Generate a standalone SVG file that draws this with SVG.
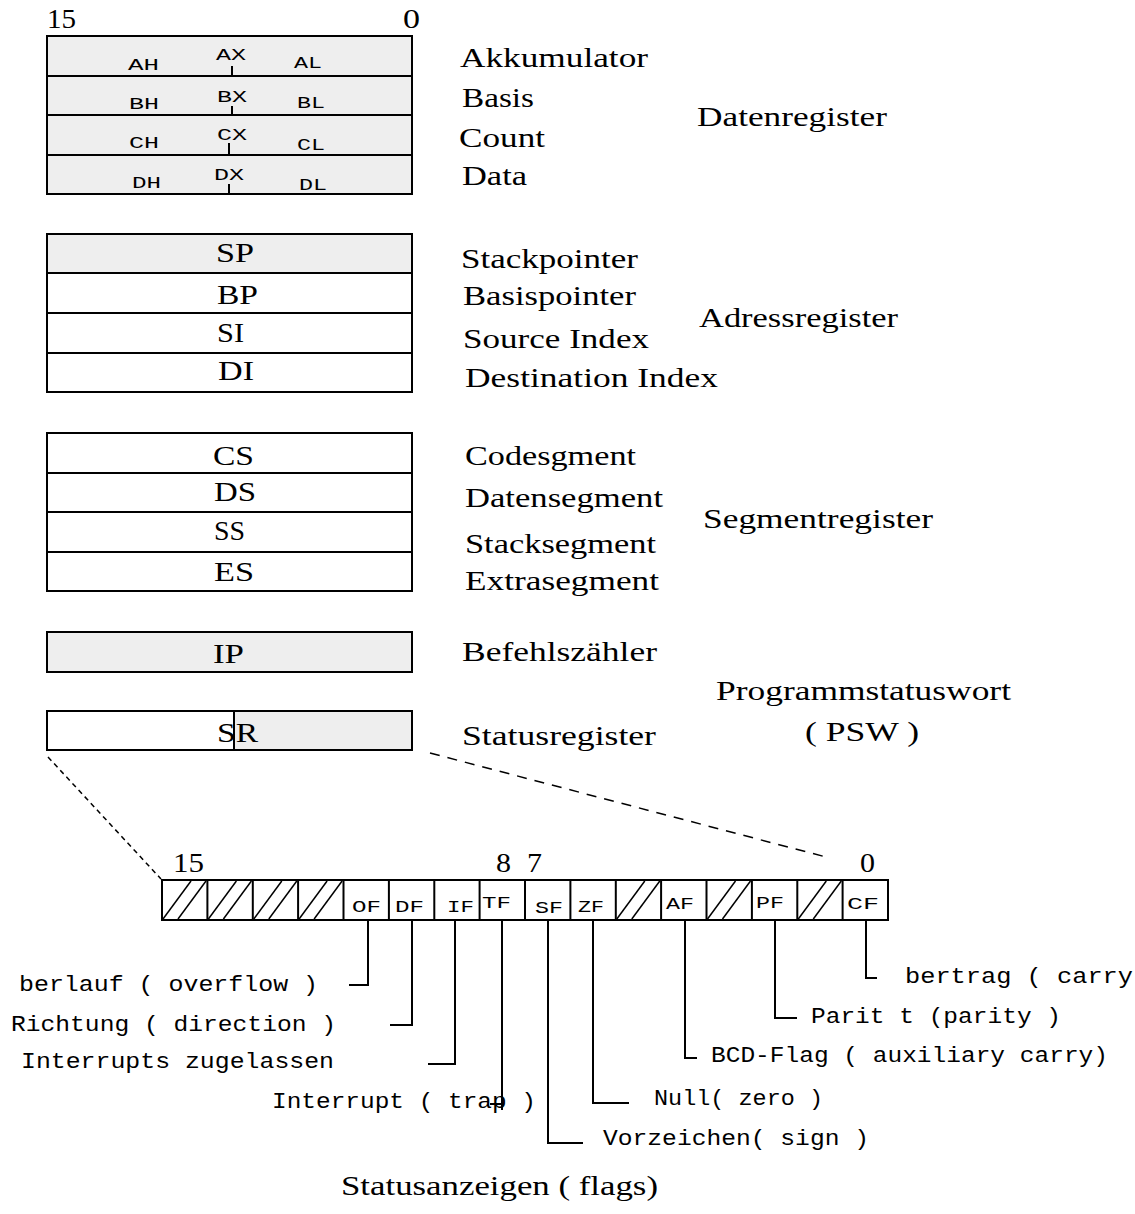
<svg xmlns="http://www.w3.org/2000/svg" width="1135" height="1214" viewBox="0 0 1135 1214">
<style>
.box{stroke:#000;stroke-width:2;fill:#fff}
.g{fill:#eeeeee}
.ln{stroke:#000;stroke-width:2;fill:none}
.t{font-family:"Liberation Serif","Times New Roman",serif;font-size:28px;fill:#000}
.m{font-family:"Liberation Mono","Courier New",monospace;font-size:17px;fill:#000}
.f{font-family:"Liberation Mono","Courier New",monospace;font-size:17px;fill:#000}
.b{font-family:"Liberation Mono","Courier New",monospace;font-size:22px;fill:#000}
.h{stroke:#000;stroke-width:1.5}
</style>
<defs>
<g id="hatch">
<line class="h" x1="1" y1="39" x2="29" y2="1"/>
<line class="h" x1="16" y1="39" x2="44" y2="1"/>
</g>
</defs>

<text class="t" x="47" y="28" textLength="29" lengthAdjust="spacingAndGlyphs">15</text>
<text class="t" x="403" y="28" textLength="17" lengthAdjust="spacingAndGlyphs">0</text>

<g id="datenregister">
<rect class="box g" x="47" y="36" width="365" height="158"/>
<line class="ln" x1="47" y1="76" x2="412" y2="76"/>
<line class="ln" x1="47" y1="115" x2="412" y2="115"/>
<line class="ln" x1="47" y1="155" x2="412" y2="155"/>
<line class="ln" x1="232" y1="66" x2="232" y2="76"/>
<line class="ln" x1="232" y1="106" x2="232" y2="115"/>
<line class="ln" x1="229" y1="143" x2="229" y2="155"/>
<line class="ln" x1="229" y1="184" x2="229" y2="194"/>
<text class="m" x="128" y="70" textLength="31" lengthAdjust="spacingAndGlyphs">AH</text>
<text class="m" x="216" y="60" textLength="30" lengthAdjust="spacingAndGlyphs">AX</text>
<text class="m" x="294" y="68" textLength="28" lengthAdjust="spacingAndGlyphs">AL</text>
<text class="m" x="129" y="109" textLength="30" lengthAdjust="spacingAndGlyphs">BH</text>
<text class="m" x="217" y="102" textLength="30" lengthAdjust="spacingAndGlyphs">BX</text>
<text class="m" x="297" y="108" textLength="28" lengthAdjust="spacingAndGlyphs">BL</text>
<text class="m" x="129" y="148" textLength="30" lengthAdjust="spacingAndGlyphs">CH</text>
<text class="m" x="217" y="140" textLength="30" lengthAdjust="spacingAndGlyphs">CX</text>
<text class="m" x="297" y="150" textLength="28" lengthAdjust="spacingAndGlyphs">CL</text>
<text class="m" x="132" y="188" textLength="29" lengthAdjust="spacingAndGlyphs">DH</text>
<text class="m" x="214" y="180" textLength="30" lengthAdjust="spacingAndGlyphs">DX</text>
<text class="m" x="299" y="190" textLength="28" lengthAdjust="spacingAndGlyphs">DL</text>
<text class="t" x="460" y="67" textLength="188" lengthAdjust="spacingAndGlyphs">Akkumulator</text>
<text class="t" x="462" y="107" textLength="72" lengthAdjust="spacingAndGlyphs">Basis</text>
<text class="t" x="459" y="147" textLength="86" lengthAdjust="spacingAndGlyphs">Count</text>
<text class="t" x="462" y="185" textLength="65" lengthAdjust="spacingAndGlyphs">Data</text>
<text class="t" x="697" y="126" textLength="190" lengthAdjust="spacingAndGlyphs">Datenregister</text>
</g>

<g id="adressregister">
<rect class="box g" x="47" y="234" width="365" height="39"/>
<rect class="box" x="47" y="273" width="365" height="119"/>
<line class="ln" x1="47" y1="313" x2="412" y2="313"/>
<line class="ln" x1="47" y1="353" x2="412" y2="353"/>
<text class="t" x="216" y="262" textLength="38" lengthAdjust="spacingAndGlyphs">SP</text>
<text class="t" x="217" y="304" textLength="41" lengthAdjust="spacingAndGlyphs">BP</text>
<text class="t" x="217" y="342" textLength="27" lengthAdjust="spacingAndGlyphs">SI</text>
<text class="t" x="218" y="380" textLength="36" lengthAdjust="spacingAndGlyphs">DI</text>
<text class="t" x="461" y="268" textLength="177" lengthAdjust="spacingAndGlyphs">Stackpointer</text>
<text class="t" x="463" y="305" textLength="173" lengthAdjust="spacingAndGlyphs">Basispointer</text>
<text class="t" x="463" y="348" textLength="186" lengthAdjust="spacingAndGlyphs">Source Index</text>
<text class="t" x="465" y="387" textLength="253" lengthAdjust="spacingAndGlyphs">Destination Index</text>
<text class="t" x="699" y="327" textLength="199" lengthAdjust="spacingAndGlyphs">Adressregister</text>
</g>

<g id="segmentregister">
<rect class="box" x="47" y="433" width="365" height="158"/>
<line class="ln" x1="47" y1="473" x2="412" y2="473"/>
<line class="ln" x1="47" y1="512" x2="412" y2="512"/>
<line class="ln" x1="47" y1="552" x2="412" y2="552"/>
<text class="t" x="213" y="465" textLength="41" lengthAdjust="spacingAndGlyphs">CS</text>
<text class="t" x="214" y="501" textLength="42" lengthAdjust="spacingAndGlyphs">DS</text>
<text class="t" x="214" y="540" textLength="31" lengthAdjust="spacingAndGlyphs">SS</text>
<text class="t" x="214" y="581" textLength="40" lengthAdjust="spacingAndGlyphs">ES</text>
<text class="t" x="465" y="465" textLength="171" lengthAdjust="spacingAndGlyphs">Codesgment</text>
<text class="t" x="465" y="507" textLength="198" lengthAdjust="spacingAndGlyphs">Datensegment</text>
<text class="t" x="465" y="553" textLength="191" lengthAdjust="spacingAndGlyphs">Stacksegment</text>
<text class="t" x="465" y="590" textLength="194" lengthAdjust="spacingAndGlyphs">Extrasegment</text>
<text class="t" x="703" y="528" textLength="230" lengthAdjust="spacingAndGlyphs">Segmentregister</text>
</g>

<g id="ip">
<rect class="box g" x="47" y="632" width="365" height="40"/>
<text class="t" x="213" y="663" textLength="31" lengthAdjust="spacingAndGlyphs">IP</text>
<text class="t" x="462" y="661" textLength="195" lengthAdjust="spacingAndGlyphs">Befehlszähler</text>
</g>

<g id="sr">
<rect class="box" x="47" y="711" width="365" height="39"/>
<rect class="g" x="234" y="712" width="177" height="37"/>
<line class="ln" x1="234" y1="711" x2="234" y2="750"/>
<text class="t" x="217" y="742" textLength="41" lengthAdjust="spacingAndGlyphs">SR</text>
<text class="t" x="462" y="745" textLength="194" lengthAdjust="spacingAndGlyphs">Statusregister</text>
<text class="t" x="716" y="700" textLength="295" lengthAdjust="spacingAndGlyphs">Programmstatuswort</text>
<text class="t" x="805" y="741" textLength="114" lengthAdjust="spacingAndGlyphs">( PSW )</text>
</g>

<g id="flags">
<text class="t" x="173" y="872" textLength="31" lengthAdjust="spacingAndGlyphs">15</text>
<text class="t" x="496" y="872" textLength="15" lengthAdjust="spacingAndGlyphs">8</text>
<text class="t" x="527" y="872" textLength="15" lengthAdjust="spacingAndGlyphs">7</text>
<text class="t" x="860" y="872" textLength="15" lengthAdjust="spacingAndGlyphs">0</text>
<use href="#hatch" x="162" y="880"/>
<use href="#hatch" x="207.4" y="880"/>
<use href="#hatch" x="252.8" y="880"/>
<use href="#hatch" x="298.1" y="880"/>
<use href="#hatch" x="615.8" y="880"/>
<use href="#hatch" x="706.5" y="880"/>
<use href="#hatch" x="797.3" y="880"/>
<rect x="162" y="880" width="726" height="40" fill="none" stroke="#000" stroke-width="2"/>
<path class="ln" d="M207.4 880V920M252.8 880V920M298.1 880V920M343.5 880V920M388.9 880V920M434.3 880V920M479.6 880V920M525 880V920M570.4 880V920M615.8 880V920M661.1 880V920M706.5 880V920M751.9 880V920M797.3 880V920M842.6 880V920"/>
<text class="f" x="352" y="912" textLength="29" lengthAdjust="spacingAndGlyphs">OF</text>
<text class="f" x="395" y="912" textLength="29" lengthAdjust="spacingAndGlyphs">DF</text>
<text class="f" x="447" y="912" textLength="27" lengthAdjust="spacingAndGlyphs">IF</text>
<text class="f" x="482" y="908" textLength="29" lengthAdjust="spacingAndGlyphs">TF</text>
<text class="f" x="535" y="913" textLength="28" lengthAdjust="spacingAndGlyphs">SF</text>
<text class="f" x="578" y="912" textLength="26" lengthAdjust="spacingAndGlyphs">ZF</text>
<text class="f" x="666" y="909" textLength="28" lengthAdjust="spacingAndGlyphs">AF</text>
<text class="f" x="756" y="908" textLength="28" lengthAdjust="spacingAndGlyphs">PF</text>
<text class="f" x="847" y="909" textLength="32" lengthAdjust="spacingAndGlyphs">CF</text>
</g>

<g id="labels">
<text class="b" x="19" y="991" textLength="299" lengthAdjust="spacingAndGlyphs">berlauf ( overflow )</text>
<text class="b" x="11" y="1031" textLength="325" lengthAdjust="spacingAndGlyphs">Richtung ( direction )</text>
<text class="b" x="21" y="1068" textLength="313" lengthAdjust="spacingAndGlyphs">Interrupts zugelassen</text>
<text class="b" x="272" y="1108" textLength="264" lengthAdjust="spacingAndGlyphs">Interrupt ( trap )</text>
<text class="b" x="603" y="1145" textLength="266" lengthAdjust="spacingAndGlyphs">Vorzeichen( sign )</text>
<text class="b" x="654" y="1105" textLength="169" lengthAdjust="spacingAndGlyphs">Null( zero )</text>
<text class="b" x="711" y="1062" textLength="397" lengthAdjust="spacingAndGlyphs">BCD-Flag ( auxiliary carry)</text>
<text class="b" x="811" y="1023" textLength="250" lengthAdjust="spacingAndGlyphs">Parit t (parity )</text>
<text class="b" x="905" y="983" textLength="228" lengthAdjust="spacingAndGlyphs">bertrag ( carry</text>
<text class="t" x="341" y="1195" textLength="317" lengthAdjust="spacingAndGlyphs">Statusanzeigen ( flags)</text>
</g>

<g id="connectors">
<line x1="48" y1="757" x2="161" y2="879" stroke="#000" stroke-width="1.5" stroke-dasharray="5 4"/>
<line x1="430" y1="753" x2="826" y2="857" stroke="#000" stroke-width="1.5" stroke-dasharray="10 8"/>
<path class="ln" d="M368 920V985H349"/>
<path class="ln" d="M412 920V1025H390"/>
<path class="ln" d="M455 920V1064H428"/>
<path class="ln" d="M502 920V1110M490 1104H502"/>
<path class="ln" d="M548 920V1143H583"/>
<path class="ln" d="M593 920V1103H629"/>
<path class="ln" d="M685 920V1058H697"/>
<path class="ln" d="M775 920V1018H797"/>
<path class="ln" d="M866 920V978H877"/>
</g>
</svg>
